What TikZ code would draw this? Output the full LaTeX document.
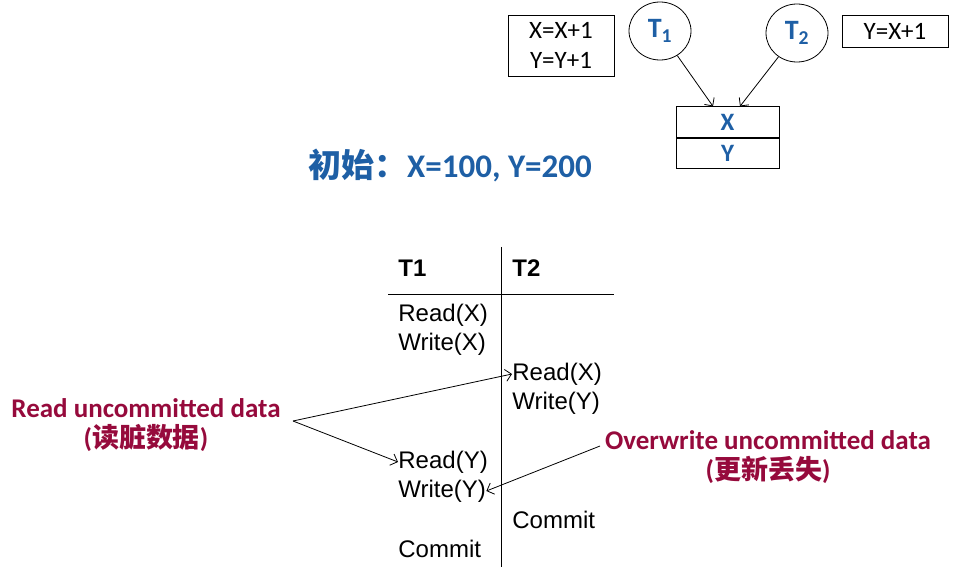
\documentclass[tikz,border=0pt]{standalone}
\usepackage{fontspec}
\setmainfont{Liberation Sans}
\newfontfamily\calib{Carlito}
\newfontfamily\cjk{Noto Sans CJK SC}
\usetikzlibrary{arrows.meta, positioning, shapes.geometric}
\definecolor{txblue}{RGB}{30,95,165}
\definecolor{note}{RGB}{150,10,60}

\begin{document}
\begin{tikzpicture}[x=1pt, y=-1pt, line width=0.8pt,
    op/.style={anchor=west, inner sep=0pt, font=\fontsize{24}{28}\selectfont},
    head/.style={anchor=west, inner sep=0pt, font=\fontsize{24}{28}\selectfont\bfseries},
    lbl/.style={text=note, align=center, font=\fontsize{27}{30}\selectfont\calib\bfseries},
    trans/.style={draw, ellipse, minimum width=62pt, minimum height=58pt, inner sep=0pt, text=txblue, font=\fontsize{28}{30}\selectfont\calib\bfseries},
    cell/.style={draw, minimum width=103pt, minimum height=30.5pt, inner sep=0pt, text=txblue, font=\fontsize{25}{27}\selectfont\calib\bfseries},
    arr/.style={-{Straight Barb[length=6pt]}}]

    \useasboundingbox (0,0) rectangle (962,580);

    % Transactions and data items
    \node[draw, minimum width=106pt, minimum height=61pt, align=center, font=\fontsize{25}{30}\selectfont\calib] (code1) at (561,45.5) {X=X+1\\Y=Y+1};
    \node[trans] (t1) at (660,31) {T\textsubscript{1}};
    \node[trans] (t2) at (797,33) {T\textsubscript{2}};
    \node[draw, minimum width=106pt, minimum height=32pt, font=\fontsize{25}{27}\selectfont\calib] (code2) at (895,31) {Y=X+1};
    \node[cell] (cx) at (727.5,122) {X};
    \node[cell, below=0pt of cx] (cy) {Y};
    \draw[arr] (t1) -- (cx.north west -| 713,0);
    \draw[arr] (t2) -- (cx.north west -| 740,0);

    % Initial values
    \node[text=txblue, font=\fontsize{33}{35}\selectfont\calib\bfseries] (init) at (450,165) {{\cjk 初始：}X=100, Y=200};

    % Schedule
    \coordinate (vtop) at (501,247);
    \coordinate (vbot) at (501,567);
    \draw (vtop) -- (vbot);
    \draw (388,294) -- (614,294);
    \node[head] (h1) at (398,268) {T1};
    \node[head] (h2) at (512,268) {T2};
    \node[op] (r1x) at (398,315) {Read(X)};
    \node[op] (w1x) at (398,344) {Write(X)};
    \node[op] (r2x) at (512,374) {Read(X)};
    \node[op] (w2y) at (512,403) {Write(Y)};
    \node[op] (r1y) at (398,462) {Read(Y)};
    \node[op] (w1y) at (398,491) {Write(Y)};
    \node[op] (c2) at (512,520) {Commit};
    \node[op] (c1) at (398,549) {Commit};

    % Anomalies
    \node[lbl] (dirty) at (146,425) {Read uncommitted data\\({\cjk 读脏数据})};
    \node[lbl] (lost) at (768,457) {Overwrite uncommitted data\\({\cjk 更新丢失})};
    \coordinate (dfrom) at (293,421);
    \coordinate (lfrom) at (600,446);
    \draw[arr] (dfrom) -- (r2x.west);
    \draw[arr] (dfrom) -- (r1y.west);
    \draw[arr] (lfrom) -- (w1y.east);

\end{tikzpicture}
\end{document}
